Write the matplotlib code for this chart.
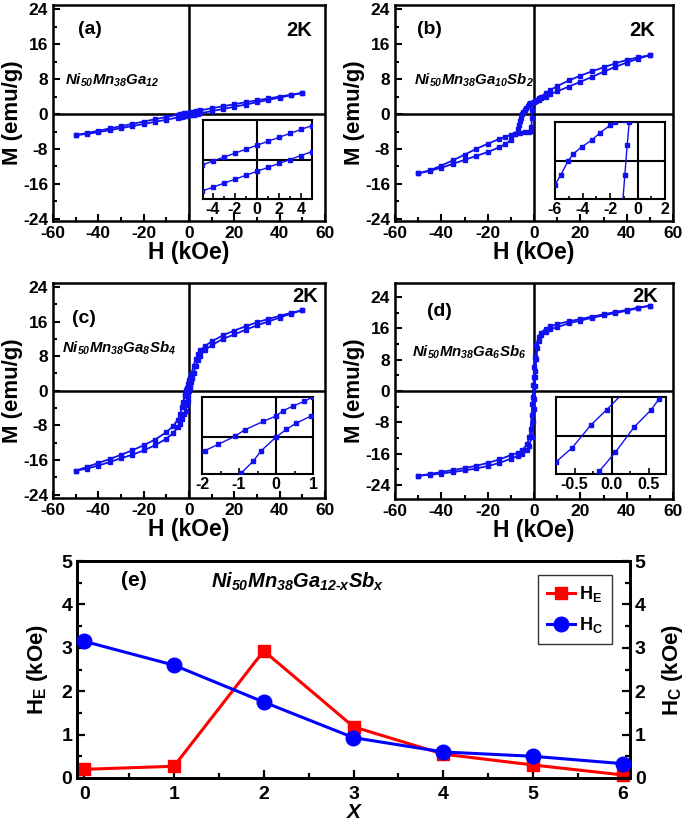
import matplotlib
matplotlib.use('Agg')
import matplotlib.pyplot as plt
from matplotlib.ticker import MultipleLocator

plt.rcParams['font.family'] = ['Liberation Sans', 'DejaVu Sans']
plt.rcParams['font.weight'] = 'bold'
plt.rcParams['axes.unicode_minus'] = False
plt.rcParams['mathtext.fontset'] = 'custom'
plt.rcParams['mathtext.it'] = 'Liberation Sans:italic:bold'
plt.rcParams['mathtext.rm'] = 'Liberation Sans:italic:bold'
plt.rcParams['mathtext.bf'] = 'Liberation Sans:bold'
plt.rcParams['mathtext.default'] = 'it'

# ---------------- data: M-H loops at 2 K ----------------
# (a) Ni50Mn38Ga12
Ha_down = [50, 45, 40, 35, 30, 25, 20, 15, 10, 5, 4, 3, 2, 1, 0, -1, -2, -3, -4, -5,
           -10, -15, -20, -25, -30, -35, -40, -45, -50]
Ma_down = [4.85, 4.44, 4.02, 3.59, 3.15, 2.71, 2.26, 1.80, 1.34, 0.86, 0.76, 0.66, 0.56, 0.46, 0.36,
           0.26, 0.16, 0.06, -0.04, -0.14, -0.66, -1.18, -1.71, -2.24, -2.77, -3.30, -3.82, -4.33, -4.82]
Ha_up = [-50, -45, -40, -35, -30, -25, -20, -15, -10, -5, -4, -3, -2, -1, 0, 1, 2, 3, 4, 5,
         10, 15, 20, 25, 30, 35, 40, 45, 50]
Ma_up = [-4.82, -4.55, -4.13, -3.68, -3.22, -2.75, -2.27, -1.78, -1.28, -0.80, -0.70, -0.60, -0.50,
         -0.40, -0.30, -0.20, -0.10, 0.0, 0.10, 0.20, 0.68, 1.17, 1.68, 2.19, 2.71, 3.24, 3.78, 4.31, 4.85]

# (b) Ni50Mn38Ga10Sb2
Hb_down = [50, 45, 40, 35, 30, 25, 20, 15, 10, 7, 5, 3, 2, 1, 0, -1, -1.64, -2.0, -2.73, -3.33,
           -4.06, -4.66, -5.03, -5.58, -6.0, -6.5, -7, -8, -10, -12.5, -15, -20, -25, -30, -35,
           -40, -45, -50]
Mb_down = [13.5, 13.0, 12.4, 11.6, 10.7, 9.8, 8.8, 7.7, 6.4, 5.5, 4.8, 4.0, 3.6, 3.2, 2.8, 2.65,
           2.5, 2.28, 1.8, 1.32, 0.88, 0.44, 0.0, -0.94, -1.58, -2.6, -3.4, -4.6, -6.0, -6.9, -7.6,
           -8.7, -9.6, -10.5, -11.4, -12.3, -13.0, -13.6]
Hb_up = [-50, -45, -40, -35, -30, -25, -20, -15, -12.5, -10, -8, -6, -4, -2, -1.5, -1.1, -0.92,
         -0.75, -0.6, 0, 1, 2, 3, 5, 7, 10, 15, 20, 25, 30, 35, 40, 45, 50]
Mb_up = [-13.6, -12.9, -11.8, -10.6, -9.3, -8.0, -6.8, -5.7, -5.2, -4.8, -4.5, -4.3, -4.2, -4.0,
         -3.9, -3.0, -0.94, 1.0, 2.5, 2.7, 3.0, 3.3, 3.6, 4.0, 4.6, 5.2, 6.3, 7.4, 8.5, 9.7, 10.8,
         11.8, 12.7, 13.5]

# (c) Ni50Mn38Ga8Sb4
Hc_down = [50, 45, 40, 35, 30, 25, 20, 15, 10, 7, 5, 4, 3, 2, 1, 0.77, 0.46, 0.19, 0, -0.35,
           -0.85, -1.12, -1.57, -1.93, -2.5, -3, -4, -5, -7, -10, -15, -20, -25, -30, -35, -40,
           -45, -50]
Mc_down = [18.6, 18.0, 17.3, 16.6, 15.8, 14.9, 13.9, 12.8, 11.4, 10.3, 9.3, 8.4, 7.3, 5.8, 3.8,
           3.4, 2.94, 2.5, 2.0, 1.48, 0.67, 0.06, -0.7, -1.3, -2.6, -3.7, -5.4, -6.7, -8.2, -9.6,
           -11.3, -12.6, -13.8, -14.8, -15.8, -16.7, -17.6, -18.5]
Hc_up = [-50, -45, -40, -35, -30, -25, -20, -15, -10, -7, -5, -4, -3, -2, -1.5, -0.94, -0.62,
         -0.4, 0, 0.28, 0.55, 0.95, 1.5, 2, 3, 4, 5, 7, 10, 15, 20, 25, 30, 35, 40, 45, 50]
Mc_up = [-18.5, -18.0, -17.3, -16.5, -15.6, -14.8, -13.8, -12.6, -11.1, -9.8, -8.5, -7.7, -6.6,
         -5.4, -4.6, -3.4, -2.3, -1.3, 0.0, 0.73, 1.33, 2.0, 3.0, 4.0, 5.8, 7.1, 8.1, 9.4, 10.5,
         12.0, 13.0, 14.1, 15.1, 16.0, 16.9, 17.8, 18.6]

# (d) Ni50Mn38Ga6Sb6
Hd_down = [50, 45, 40, 35, 30, 25, 20, 15, 10, 7, 5, 3, 2, 1, 0.5, 0.2, -0.07, -0.28, -0.53,
           -0.75, -1, -1.5, -2, -3, -5, -7, -10, -15, -20, -25, -30, -35, -40, -45, -50]
Md_down = [21.8, 21.3, 20.7, 20.2, 19.6, 19.0, 18.4, 17.8, 17.1, 16.5, 15.9, 14.9, 13.9, 11.8,
           8.8, 6.2, 3.5, 1.5, -1.5, -3.4, -6.2, -9.8, -11.8, -13.6, -15.1, -15.8, -16.4, -17.5,
           -18.4, -19.1, -19.7, -20.2, -20.7, -21.2, -21.7]
Hd_up = [-50, -45, -40, -35, -30, -25, -20, -15, -10, -7, -5, -3, -2, -1, -0.5, -0.165, 0.05,
         0.30, 0.53, 0.64, 1, 1.5, 2, 3, 5, 7, 10, 15, 20, 25, 30, 35, 40, 45, 50]
Md_up = [-21.7, -21.4, -21.1, -20.7, -20.3, -19.8, -19.2, -18.4, -17.3, -16.6, -16.0, -15.0,
         -14.0, -11.8, -8.0, -4.6, -2.1, 1.2, 3.5, 5.0, 8.2, 11.0, 12.8, 14.3, 15.2, 15.8, 16.3,
         17.3, 18.0, 18.7, 19.3, 19.9, 20.5, 21.2, 21.8]

# (e) exchange bias and coercive fields vs Sb content
x_sb = [0, 1, 2, 3, 4, 5, 6]
H_E = [0.20, 0.27, 2.93, 1.18, 0.55, 0.30, 0.07]
H_C = [3.15, 2.60, 1.75, 0.93, 0.60, 0.50, 0.33]

panel_labels = ['(a)', '(b)', '(c)', '(d)', '(e)']
compounds = [r'$Ni_{50}Mn_{38}Ga_{12}$', r'$Ni_{50}Mn_{38}Ga_{10}Sb_{2}$',
             r'$Ni_{50}Mn_{38}Ga_{8}Sb_{4}$', r'$Ni_{50}Mn_{38}Ga_{6}Sb_{6}$',
             r'$Ni_{50}Mn_{38}Ga_{12\text{-}x}Sb_{x}$']

# ---------------- figure ----------------
W, Hh = 685, 827
fig = plt.figure(figsize=(W / 100, Hh / 100), dpi=100)


def rect(x0, y0, x1, y1):
    return [x0 / W, 1 - y1 / Hh, (x1 - x0) / W, (y1 - y0) / Hh]


def fpos(x, y):
    return x / W, 1 - y / Hh


BLUE = '#1010f0'


def loop_panel(box, Hdn, Mdn, Hup, Mup, ylim, plabel, comp, ppos, kpos, cpos,
               ibox, ixlim, iylim, imaj, imin, ifmt):
    ax = fig.add_axes(rect(*box))
    for H, M in ((Hdn, Mdn), (Hup, Mup)):
        ax.plot(H, M, '-s', color=BLUE, lw=1.3, ms=2.4, mec=BLUE, zorder=3)
    ax.axhline(0, color='black', lw=1.8, zorder=2)
    ax.axvline(0, color='black', lw=1.8, zorder=2)
    ax.set_xlim(-60, 60)
    ax.set_ylim(*ylim)
    ax.xaxis.set_major_locator(MultipleLocator(20))
    ax.xaxis.set_minor_locator(MultipleLocator(10))
    ax.yaxis.set_major_locator(MultipleLocator(8))
    ax.yaxis.set_minor_locator(MultipleLocator(4))
    ax.tick_params(which='both', direction='in', width=1.5, labelsize=12.5,
                   top=False, right=False)
    ax.tick_params(which='major', length=5)
    ax.tick_params(which='minor', length=3)
    for lab in ax.get_xticklabels() + ax.get_yticklabels():
        lab.set_fontweight('bold')
    for s in ax.spines.values():
        s.set_linewidth(1.8)
    ax.set_xlabel('H (kOe)', fontsize=16.5, fontweight='bold', labelpad=0)
    ax.set_ylabel('M (emu/g)', fontsize=16, fontweight='bold', labelpad=0)
    fig.text(*fpos(*ppos), plabel, fontsize=14, fontweight='bold', ha='left', va='center')
    fig.text(*fpos(*kpos), '2K', fontsize=14.5, fontweight='bold', ha='right', va='center')
    fig.text(*fpos(*cpos), comp, fontsize=10.8, ha='left', va='center')

    ia = fig.add_axes(rect(*ibox))
    for H, M in ((Hdn, Mdn), (Hup, Mup)):
        ia.plot(H, M, '-s', color=BLUE, lw=1.0, ms=2.2, mec=BLUE, zorder=3)
    ia.axhline(0, color='black', lw=1.5, zorder=2)
    ia.axvline(0, color='black', lw=1.5, zorder=2)
    ia.set_xlim(*ixlim)
    ia.set_ylim(*iylim)
    ia.xaxis.set_major_locator(MultipleLocator(imaj))
    ia.xaxis.set_minor_locator(MultipleLocator(imin))
    ia.xaxis.set_major_formatter(ifmt)
    ia.set_yticks([])
    ia.tick_params(which='both', direction='in', width=1.2, labelsize=11.5, pad=2)
    ia.tick_params(which='major', length=4)
    ia.tick_params(which='minor', length=2.5)
    for lab in ia.get_xticklabels():
        lab.set_fontweight('bold')
    for s in ia.spines.values():
        s.set_linewidth(1.5)
    ia.set_facecolor('white')
    return ax


fmt_int = '{x:.0f}'
fmt_1 = '{x:.1f}'

loop_panel((53, 5, 325, 221), Ha_down, Ma_down, Ha_up, Ma_up, (-24.5, 25),
           panel_labels[0], compounds[0], (78, 30), (312, 30), (65, 80),
           (203, 120, 312, 199), (-4.9, 5.0), (-1.0, 1.0), 2, 1, fmt_int)
loop_panel((395, 5, 673, 221), Hb_down, Mb_down, Hb_up, Mb_up, (-24.5, 25),
           panel_labels[1], compounds[1], (417, 30), (655, 30), (414, 80),
           (555, 122, 665, 199), (-6.0, 2.0), (-2.5, 2.5), 2, 1, fmt_int)
loop_panel((53, 283, 325, 498), Hc_down, Mc_down, Hc_up, Mc_up, (-24.8, 24.9),
           panel_labels[2], compounds[2], (72, 319), (318, 297), (62, 348),
           (202, 397, 313, 474), (-2.0, 1.0), (-3.5, 3.8), 1, 0.5, fmt_int)
loop_panel((395, 283, 673, 499), Hd_down, Md_down, Hd_up, Md_up, (-27.6, 27.6),
           panel_labels[3], compounds[3], (427, 311), (658, 297), (412, 352),
           (556, 397, 666, 474), (-0.75, 0.73), (-5.0, 5.2), 0.5, 0.25, fmt_1)

# ---------------- panel (e) ----------------
axe = fig.add_axes(rect(77, 561, 630, 778))
axr = axe.twinx()
lE, = axe.plot(x_sb, H_E, '-s', color='#ff0000', lw=2.2, ms=9, mec='#ff0000',
               clip_on=False, zorder=3)
lC, = axr.plot(x_sb, H_C, '-o', color='#0000ff', lw=2.2, ms=10.5, mec='#0000ff',
               clip_on=False, zorder=3)
for a in (axe, axr):
    a.set_xlim(-0.08, 6.08)
    a.set_ylim(0, 5)
    a.yaxis.set_major_locator(MultipleLocator(1))
    a.yaxis.set_minor_locator(MultipleLocator(0.5))
    a.tick_params(which='both', direction='in', width=1.6, labelsize=14)
    a.tick_params(which='major', length=6)
    a.tick_params(which='minor', length=3.5)
    for s in a.spines.values():
        s.set_linewidth(2.0)
axe.xaxis.set_major_locator(MultipleLocator(1))
axe.xaxis.set_minor_locator(MultipleLocator(0.5))
axe.tick_params(top=False, right=False)
axe.tick_params(axis='x', pad=6)
for lab in axe.get_xticklabels() + axe.get_yticklabels() + axr.get_yticklabels():
    lab.set_fontweight('bold')
axe.set_xlabel('X', fontsize=15, fontweight='bold', fontstyle='italic', labelpad=0)
axe.set_ylabel(r'H$_{\mathregular{E}}$ (kOe)', fontsize=16, fontweight='bold', labelpad=8)
axr.set_ylabel(r'H$_{\mathregular{C}}$ (kOe)', fontsize=16, fontweight='bold', labelpad=10)
fig.text(*fpos(121, 580), panel_labels[4], fontsize=15, fontweight='bold', ha='left', va='center')
fig.text(*fpos(211, 582), compounds[4], fontsize=14.5, ha='left', va='center')
leg = axe.legend([lE, lC], [r'H$_{\mathregular{E}}$', r'H$_{\mathregular{C}}$'],
                 loc='upper right', bbox_to_anchor=fpos(621, 566),
                 bbox_transform=fig.transFigure, fontsize=13,
                 frameon=True, fancybox=False, edgecolor='black', handlelength=1.6,
                 handletextpad=0.2, borderpad=0.5, labelspacing=0.6)
leg.get_frame().set_linewidth(1.0)
for t in leg.get_texts():
    t.set_fontweight('bold')

fig.savefig('out.png', dpi=100)
